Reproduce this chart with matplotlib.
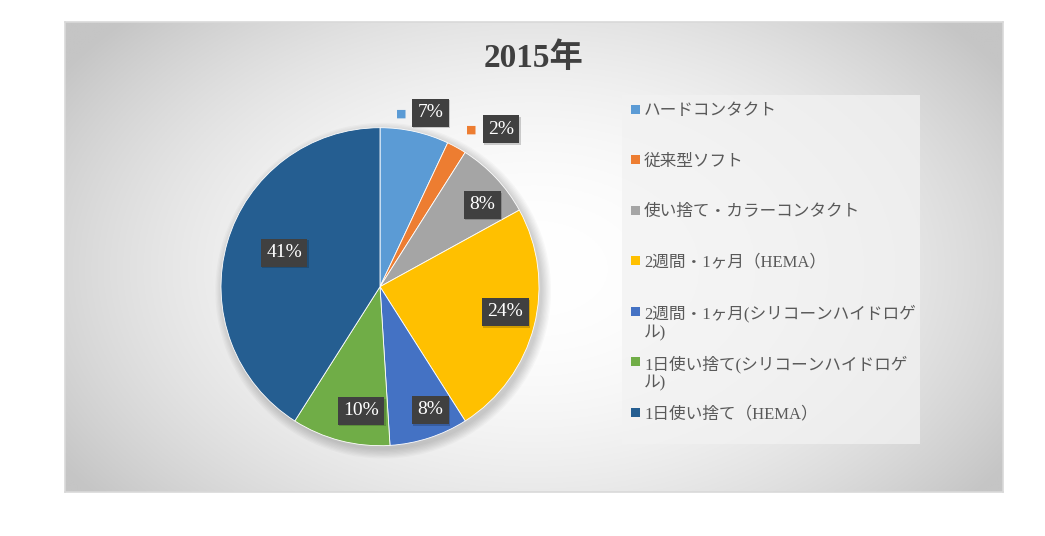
import matplotlib.pyplot as plt
import numpy as np
from matplotlib.patches import Rectangle, Circle

# Data
labels = [
    "ハードコンタクト",
    "従来型ソフト",
    "使い捨て・カラーコンタクト",
    "2週間・1ヶ月（HEMA）",
    "2週間・1ヶ月(シリコーンハイドロゲ\nル)",
    "1日使い捨て(シリコーンハイドロゲ\nル)",
    "1日使い捨て（HEMA）",
]
values = [7, 2, 8, 24, 8, 10, 41]
colors = ["#5B9BD5", "#ED7D31", "#A5A5A5", "#FFC000", "#4472C4", "#70AD47", "#255E91"]
title = "2015年"

# label placement (radius in pie units, angular shift in degrees)
lab_r = [1.14, 1.25, 0.824, 0.805, 0.838, 0.79, 0.64]
lab_dt = [-3.6, -8.7, -4.6, 3.0, 4.3, 5.7, -3.4]
outside = [True, True, False, False, False, False, False]

SERIF = ["Liberation Serif", "Noto Sans CJK JP"]
plt.rcParams["font.family"] = SERIF

W, H = 1045, 536
fig = plt.figure(figsize=(W / 100, H / 100), dpi=100)
fig.patch.set_facecolor("white")

# chart area with radial gradient
bg = fig.add_axes([65 / W, (H - 492) / H, 938 / W, 470 / H])
xx, yy = np.meshgrid(np.linspace(-1, 1, 600), np.linspace(-1, 1, 300))
d = np.sqrt((xx / 1.0) ** 2 + ((yy + 0.05) / 1.3) ** 2)
shade = 255 - 58 * np.clip(d / 1.2, 0, 1) ** 2.0
img = np.dstack([shade, shade, shade]) / 255.0
bg.imshow(img, extent=(0, 1, 0, 1), aspect="auto", origin="lower")
bg.set_xlim(0, 1)
bg.set_ylim(0, 1)
bg.set_xticks([])
bg.set_yticks([])
for s in bg.spines.values():
    s.set_color("#d9d9d9")
    s.set_linewidth(1.2)

# title
fig.text(534 / W, 1 - 58 / H, title, ha="center", va="center", fontsize=24,
         fontweight="bold", color="#404040", family=SERIF)

# legend panel
panel_l, panel_t, panel_w, panel_h = 622, 95, 298, 349
lg = fig.add_axes([panel_l / W, 1 - (panel_t + panel_h) / H, panel_w / W, panel_h / H])
lg.set_xlim(0, panel_w)
lg.set_ylim(panel_h, 0)
lg.axis("off")
lg.add_patch(Rectangle((0, 0), panel_w, panel_h, facecolor="#f2f2f2", alpha=0.75,
                       edgecolor="none"))
step = 50.5
for i, (lab, c) in enumerate(zip(labels, colors)):
    yc = 14 + i * step
    lg.add_patch(Rectangle((9, yc - 4.5), 9, 9, facecolor=c, edgecolor="none"))
    lg.text(22, yc - 6, lab, ha="left", va="top", fontsize=12, color="#595959",
            linespacing=1.2, family=SERIF)

# pie
R = 159
half = 1.3 * R
ax = fig.add_axes([(380 - half) / W, (H - 286.7 - half) / H, 2 * half / W, 2 * half / H])
ax.axis("off")

for k in range(8):
    ax.add_patch(Circle((0.02, -0.025), 1.0 + 0.008 * k, facecolor="black",
                        alpha=0.022, edgecolor="none", zorder=1))

wedges, _ = ax.pie(values, colors=colors, startangle=90, counterclock=False,
                   radius=1.0, wedgeprops=dict(linewidth=0.6, edgecolor="white", zorder=2))
ax.set_xlim(-1.3, 1.3)
ax.set_ylim(-1.3, 1.3)
ax.set_aspect("equal")

for w, v, r, dt, out, c in zip(wedges, values, lab_r, lab_dt, outside, colors):
    mid = np.deg2rad((w.theta1 + w.theta2) / 2 + dt)
    x, y = r * np.cos(mid), r * np.sin(mid)
    ax.text(x + 0.008, y - 0.01, f"{v}%", ha="center", va="center", fontsize=14,
            color="none", zorder=3,
            bbox=dict(boxstyle="square,pad=0.28", fc="black", ec="none", alpha=0.18))
    ax.text(x, y, f"{v}%", ha="center", va="center", fontsize=14, color="white",
            zorder=4, bbox=dict(boxstyle="square,pad=0.28", fc="#404040", ec="none"))
    if out:
        ax.text(x - 0.185, y - 0.005, "■", ha="center", va="center", fontsize=8,
                color=c, family=["DejaVu Sans"], zorder=4)

fig.savefig("out.png", dpi=100)
